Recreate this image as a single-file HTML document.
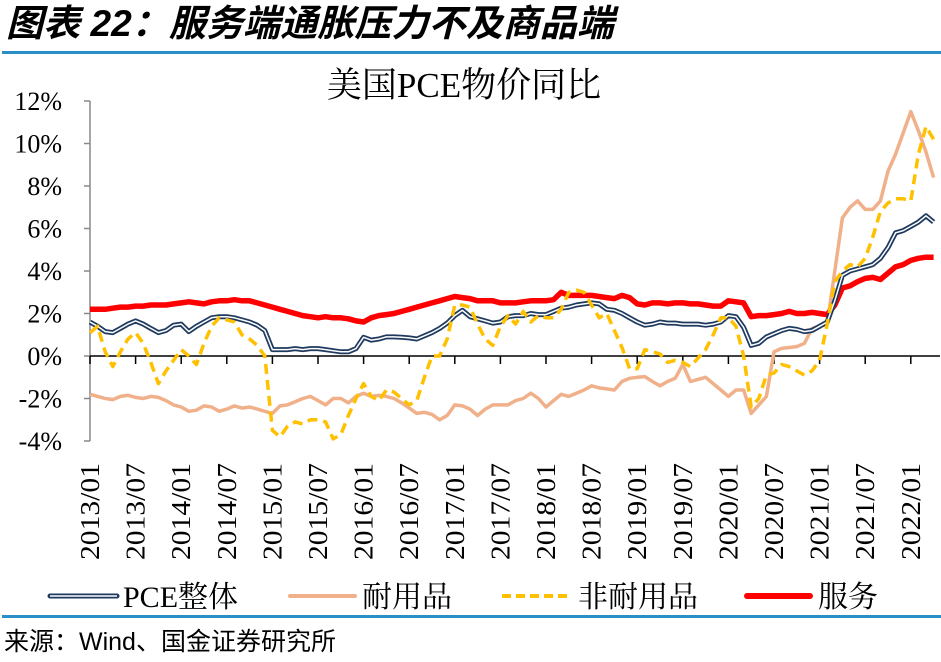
<!DOCTYPE html>
<html><head><meta charset="utf-8"><style>
body{margin:0;background:#fff;width:941px;height:662px;overflow:hidden}
svg{display:block}
</style></head><body>
<svg id="chart" width="941" height="662" xmlns="http://www.w3.org/2000/svg">
<text x="6" y="36" font-family="'Liberation Sans','Noto Sans CJK SC',sans-serif" font-size="37" font-weight="bold" font-style="italic" fill="#000" textLength="608" lengthAdjust="spacingAndGlyphs">图表 22：服务端通胀压力不及商品端</text>
<rect x="2" y="51" width="939" height="3" fill="#2a8fc7"/>
<text x="464" y="97" text-anchor="middle" font-family="'Liberation Serif','Noto Serif CJK SC',serif" font-size="35" fill="#000">美国PCE物价同比</text>
<g id="axes"></g>
<g id="series"></g>
<g font-family="'Liberation Serif','Noto Serif CJK SC',serif" font-size="30" fill="#000">
<g>
<line x1="50" y1="596" x2="117" y2="596" stroke="#1f3a5f" stroke-width="5" stroke-linecap="round"/>
<line x1="50" y1="596" x2="117" y2="596" stroke="#fff" stroke-width="1.5"/>
<text x="123" y="607">PCE整体</text></g>
<g>
<line x1="290" y1="596" x2="355" y2="596" stroke="#f0b08a" stroke-width="4" stroke-linecap="round"/>
<text x="362" y="607">耐用品</text></g>
<g>
<line x1="502" y1="596" x2="570" y2="596" stroke="#ffc000" stroke-width="4" stroke-dasharray="9,5"/>
<text x="578" y="607">非耐用品</text></g>
<g>
<line x1="747" y1="596" x2="810" y2="596" stroke="#ff0000" stroke-width="6" stroke-linecap="round"/>
<text x="818" y="607">服务</text></g>
</g>
<rect x="2" y="615" width="939" height="3" fill="#2a8fc7"/>
<text x="4" y="650" font-family="'Liberation Sans','Noto Sans CJK SC',sans-serif" font-size="25" fill="#000">来源：Wind、国金证券研究所</text>
</svg>
<script>
const yTicks=[12,10,8,6,4,2,0,-2,-4];
const xLabels=["2013/01","2013/07","2014/01","2014/07","2015/01","2015/07","2016/01","2016/07","2017/01","2017/07","2018/01","2018/07","2019/01","2019/07","2020/01","2020/07","2021/01","2021/07","2022/01"];
const pce=[1.6,1.4,1.15,1.1,1.3,1.5,1.65,1.5,1.3,1.1,1.2,1.45,
1.5,1.15,1.4,1.6,1.8,1.85,1.85,1.8,1.7,1.6,1.45,1.2,
0.3,0.3,0.3,0.35,0.3,0.35,0.35,0.3,0.25,0.2,0.2,0.35,
0.88,0.75,0.8,0.9,0.9,0.88,0.85,0.8,0.95,1.1,1.3,1.55,
1.9,2.15,1.85,1.75,1.65,1.55,1.6,1.85,1.9,1.9,2.0,1.95,
1.95,2.1,2.25,2.3,2.4,2.45,2.5,2.45,2.2,2.15,2.0,1.8,
1.6,1.45,1.5,1.6,1.55,1.55,1.5,1.5,1.5,1.45,1.5,1.6,
1.9,1.85,1.35,0.5,0.6,0.9,1.05,1.2,1.3,1.25,1.15,1.2,
1.4,1.6,2.6,3.8,4.0,4.1,4.2,4.3,4.6,5.1,5.8,5.9,
6.1,6.3,6.6,6.3];
const durable=[-1.8,-1.9,-2.0,-2.05,-1.9,-1.85,-1.95,-2.0,-1.9,-1.95,-2.1,-2.3,
-2.4,-2.6,-2.55,-2.35,-2.4,-2.6,-2.5,-2.35,-2.45,-2.4,-2.5,-2.6,
-2.7,-2.35,-2.3,-2.15,-2.0,-1.9,-2.1,-2.3,-2.0,-2.0,-2.2,-1.9,
-1.75,-1.9,-1.85,-1.9,-2.0,-2.2,-2.45,-2.7,-2.65,-2.75,-3.0,-2.8,
-2.3,-2.35,-2.5,-2.8,-2.5,-2.3,-2.3,-2.3,-2.1,-2.0,-1.75,-2.0,
-2.4,-2.1,-1.8,-1.9,-1.75,-1.6,-1.4,-1.5,-1.55,-1.6,-1.2,-1.05,
-1.0,-0.97,-1.2,-1.4,-1.2,-1.05,-0.4,-1.2,-1.1,-1.0,-1.3,-1.6,
-1.9,-1.6,-1.6,-2.7,-2.3,-1.9,0.2,0.36,0.4,0.44,0.6,1.3,
1.4,1.5,4.0,6.5,7.0,7.3,6.9,6.9,7.3,8.7,9.5,10.5,
11.5,10.6,9.6,8.4];
const nondurable=[1.1,1.4,0.2,-0.5,0.2,0.8,1.1,0.6,-0.3,-1.3,-0.7,-0.2,
0.3,0.0,-0.4,0.6,1.4,1.8,1.7,1.6,1.0,0.8,0.5,0.0,
-3.5,-3.8,-3.3,-3.1,-3.2,-3.0,-3.0,-3.1,-3.9,-3.7,-2.8,-2.0,
-1.3,-1.9,-2.1,-1.6,-1.7,-2.0,-2.3,-2.1,-1.0,0.0,0.0,0.8,
2.4,2.4,2.3,1.5,0.8,0.5,1.4,1.9,1.5,2.1,1.6,1.9,
1.8,1.8,2.2,3.0,3.1,3.0,2.4,1.8,2.0,1.2,0.4,-0.6,
-0.6,0.3,0.2,0.1,-0.3,-0.2,-0.3,-0.5,-0.1,0.3,1.0,1.8,
1.8,1.4,0.0,-2.4,-2.0,-0.9,-0.8,-0.4,-0.5,-0.7,-0.9,-0.7,
-0.2,1.5,3.5,4.0,4.3,4.2,4.6,5.6,6.8,7.2,7.4,7.4,
7.3,9.5,10.8,10.2];
const services=[2.2,2.2,2.2,2.25,2.3,2.3,2.35,2.35,2.4,2.4,2.4,2.45,
2.5,2.55,2.5,2.45,2.55,2.6,2.6,2.65,2.6,2.6,2.5,2.4,
2.3,2.2,2.1,2.0,1.9,1.85,1.8,1.85,1.8,1.8,1.75,1.65,
1.6,1.8,1.9,1.95,2.0,2.1,2.2,2.3,2.4,2.5,2.6,2.7,
2.8,2.75,2.7,2.6,2.6,2.6,2.5,2.5,2.5,2.55,2.6,2.6,
2.6,2.65,3.0,2.85,2.85,2.85,2.85,2.8,2.75,2.7,2.85,2.75,
2.45,2.4,2.5,2.5,2.45,2.5,2.5,2.45,2.45,2.4,2.35,2.35,
2.6,2.55,2.5,1.85,1.9,1.9,1.95,2.0,2.1,2.0,2.0,2.05,
2.0,1.95,2.4,3.2,3.3,3.5,3.65,3.7,3.6,3.9,4.2,4.3,
4.5,4.6,4.65,4.65];
const NS='http://www.w3.org/2000/svg';
const X0=90,DX=7.6,Y0=356,PY=21.25;
function xs(i){return X0+i*DX;}
function ys(v){return Y0-v*PY;}
function mk(tag,attrs,parent){const e=document.createElementNS(NS,tag);for(const k in attrs)e.setAttribute(k,attrs[k]);parent.appendChild(e);return e;}
const axes=document.getElementById('axes');
const yAxis=mk('line',{x1:X0,y1:ys(12),x2:X0,y2:ys(-4),stroke:'#888','stroke-width':1.5},axes);


yTicks.forEach(t=>{
 const tk=mk('line',{x1:X0-6,y1:ys(t),x2:X0,y2:ys(t),stroke:'#888','stroke-width':1.5},axes);
 
 
 const lb=mk('text',{x:62,y:ys(t)+9,'text-anchor':'end','font-family':"'Liberation Serif',serif",'font-size':26},axes);
 lb.textContent=t+'%';
 
 
});
const xAxis=mk('line',{x1:X0,y1:Y0,x2:940,y2:Y0,stroke:'#000','stroke-width':1.5},axes);


xLabels.forEach((l,k)=>{
 const x=xs(k*6);
 const tk=mk('line',{x1:x,y1:Y0,x2:x,y2:Y0+8,stroke:'#000','stroke-width':1.5},axes);
 
 
 const lb=mk('text',{x:0,y:0,transform:'translate('+(x+9)+',560) rotate(-90)','font-family':"'Liberation Serif',serif",'font-size':27,textLength:97,lengthAdjust:'spacingAndGlyphs'},axes);
 lb.textContent=l;
 
 
});
const ser=document.getElementById('series');
function pts(a){return a.map((v,i)=>xs(i).toFixed(1)+','+ys(v).toFixed(1)).join(' ');}
const d=mk('polyline',{points:pts(durable),fill:'none',stroke:'#f0b08a','stroke-width':3.5,'stroke-linejoin':'round'},ser);


const s=mk('polyline',{points:pts(services),fill:'none',stroke:'#ff0000','stroke-width':5.5,'stroke-linejoin':'round'},ser);


const p=mk('polyline',{points:pts(pce),fill:'none',stroke:'#1f3a5f','stroke-width':5,'stroke-linejoin':'round'},ser);


const p2=mk('polyline',{points:pts(pce),fill:'none',stroke:'#fff','stroke-width':1.5,'stroke-linejoin':'round'},ser);


const n=mk('polyline',{points:pts(nondurable),fill:'none',stroke:'#ffc000','stroke-width':3.5,'stroke-dasharray':'10,6','stroke-linejoin':'round'},ser);


</script>
</body></html>
